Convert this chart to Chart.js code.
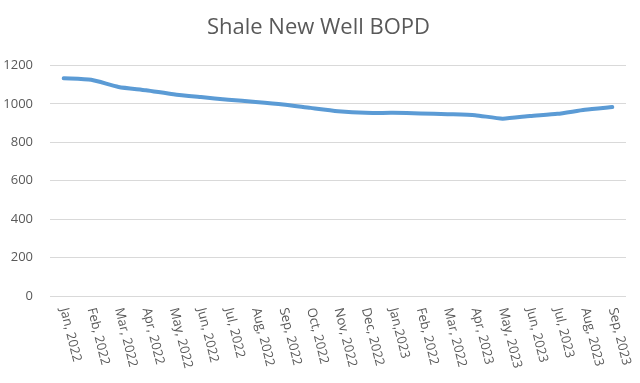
<!DOCTYPE html>
<html>
<head>
    <meta charset="UTF-8">
    <title>Shale New Well BOPD</title>
    <script src="https://cdn.jsdelivr.net/npm/chart.js@4.4.0/dist/chart.umd.min.js"></script>
    <style>
        html, body { margin: 0; padding: 0; background: #ffffff; }
        .chart-container { width: 640px; height: 383px; position: relative; }
    </style>
</head>
<body>
    <div class="chart-container"><canvas id="chart"></canvas></div>

    <script>
        // 軸ラベル（元の表記のまま）
        const months = [
            'Jan, 2022', 'Feb, 2022', 'Mar, 2022', 'Apr, 2022', 'May, 2022', 'Jun, 2022',
            'Jul, 2022', 'Aug, 2022', 'Sep, 2022', 'Oct, 2022', 'Nov, 2022', 'Dec, 2022',
            'Jan,2023', 'Feb, 2022', 'Mar, 2022', 'Apr, 2023', 'May, 2023', 'Jun, 2023',
            'Jul, 2023', 'Aug, 2023', 'Sep, 2023'
        ];
        // 新規井あたりの日量 (BOPD)
        const bopd = [
            1133, 1125, 1088, 1071, 1050, 1035, 1021, 1010, 997, 979, 962, 953,
            953, 950, 946, 941, 923, 937, 948, 969, 983
        ];
        const yTicks = [0, 200, 400, 600, 800, 1000, 1200];

        const textColor = '#595959';
        const gridColor = '#d9d9d9';

        // 斜めのX軸ラベル（右下向き）をスケールの位置に合わせて描画
        const slantedLabels = {
            id: 'slantedLabels',
            afterDraw(chart) {
                const xs = chart.scales.x;
                const ctx = chart.ctx;
                ctx.save();
                ctx.font = '13px "Open Sans"';
                ctx.fillStyle = textColor;
                ctx.textAlign = 'left';
                ctx.textBaseline = 'middle';
                xs.ticks.forEach((t, i) => {
                    ctx.save();
                    ctx.translate(xs.getPixelForTick(i), chart.chartArea.bottom + 12);
                    ctx.rotate(76 * Math.PI / 180);
                    ctx.fillText(months[i], 0, 0);
                    ctx.restore();
                });
                ctx.restore();
            }
        };

        new Chart(document.getElementById('chart'), {
            type: 'line',
            data: {
                labels: months,
                datasets: [{
                    label: 'BOPD',
                    data: bopd,
                    borderColor: '#5b9bd5',
                    borderWidth: 4,
                    borderCapStyle: 'round',
                    pointRadius: 0,
                    tension: 0.2,
                    fill: false
                }]
            },
            options: {
                responsive: true,
                maintainAspectRatio: false,
                animation: false,
                layout: { padding: { left: 0, right: 3, top: 0, bottom: 0 } },
                plugins: {
                    legend: { display: false },
                    tooltip: { enabled: false },
                    title: {
                        display: true,
                        text: 'Shale New Well BOPD',
                        color: textColor,
                        font: { family: '"Open Sans"', size: 22, weight: 'normal' },
                        padding: { top: 15, bottom: 24 }
                    }
                },
                scales: {
                    x: {
                        offset: true,
                        grid: { display: false },
                        border: { display: false },
                        ticks: { display: false },
                        afterFit: s => { s.height = 87; }
                    },
                    y: {
                        min: 0,
                        max: 1200,
                        afterBuildTicks: s => { s.ticks = yTicks.map(v => ({ value: v })); },
                        grid: { color: gridColor, lineWidth: 1, drawTicks: false },
                        border: { display: false },
                        ticks: {
                            color: textColor,
                            padding: 17,
                            font: { family: '"Open Sans"', size: 13 },
                            callback: v => String(v)
                        },
                        afterFit: s => { s.width = 50; }
                    },
                    // 右側の余白用（表示なし）
                    yRight: {
                        position: 'right',
                        min: 0,
                        max: 1200,
                        grid: { display: false },
                        border: { display: false },
                        ticks: { display: false },
                        afterFit: s => { s.width = 11; }
                    }
                }
            },
            plugins: [slantedLabels]
        });
    </script>
</body>
</html>
